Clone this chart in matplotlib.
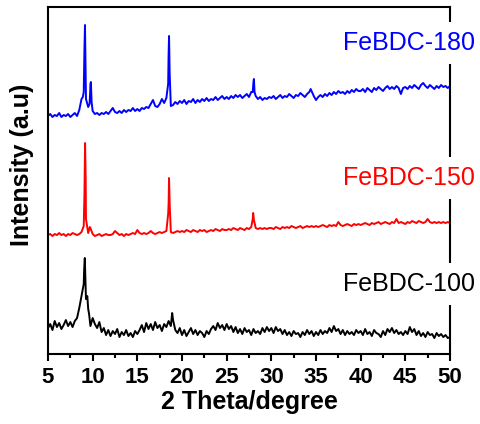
import numpy as np
import matplotlib
matplotlib.use("Agg")
import matplotlib.pyplot as plt
from matplotlib.ticker import MultipleLocator

plt.rcParams['font.family'] = ['Liberation Sans', 'DejaVu Sans']

# 2-theta grid (0.25 deg step) and hand-read intensities (arbitrary units, stacked offsets)
theta_start, theta_stop, theta_step = 5.0, 50.0, 0.25

fe180_base = [
    238, 240, 237, 239, 238, 241, 237, 239, 238, 240, 237, 239, 241, 238, 244, 255, 262, 255, 247, 270,
    243, 240, 241, 239, 241, 240, 242, 240, 243, 246, 242, 241, 243, 241, 244, 242, 244, 243, 246, 243,
    245, 243, 246, 245, 247, 246, 250, 254, 248, 247, 250, 255, 251, 256, 300, 248, 249, 252, 250, 253,
    251, 254, 250, 253, 252, 255, 251, 254, 252, 255, 253, 256, 253, 255, 254, 257, 254, 256, 258, 255,
    257, 255, 258, 256, 259, 257, 259, 256, 258, 260, 257, 262, 272, 258, 255, 257, 254, 256, 255, 257,
    256, 258, 255, 257, 259, 256, 258, 257, 260, 258, 256, 259, 258, 261, 259, 257, 260, 262, 263, 258,
    254, 257, 259, 257, 260, 258, 261, 259, 262, 260, 263, 261, 262, 260, 263, 261, 264, 262, 265, 263,
    263, 265, 262, 266, 264, 262, 266, 264, 267, 265, 263, 266, 268, 265, 267, 265, 268, 266, 260, 266,
    267, 265, 268, 266, 269, 267, 265, 269, 271, 268, 266, 269, 267, 265, 268, 266, 269, 267, 268, 266,
    268,
]
fe180_peak_x = [8.9, 9.08, 9.14, 9.2, 9.65, 9.72, 9.8, 9.88, 18.45, 18.55, 18.62, 27.92, 28.05, 28.12, 34.4]
fe180_peak_y = [257, 305, 329, 290, 250, 262, 272, 252, 270, 318, 280, 262, 275, 262, 265]

fe150_base = [
    119, 120, 118, 120, 119, 121, 119, 120, 118, 120, 119, 121, 120, 119, 120, 122, 128, 135, 121, 126,
    120, 118, 119, 120, 118, 119, 120, 119, 119, 120, 123, 121, 119, 120, 118, 120, 119, 120, 121, 120,
    124, 121, 120, 121, 120, 121, 123, 121, 120, 121, 122, 121, 122, 123, 150, 122, 121, 122, 123, 122,
    123, 122, 124, 123, 122, 124, 123, 122, 124, 123, 124, 122, 123, 124, 123, 125, 124, 123, 125, 124,
    124, 125, 124, 126, 125, 124, 126, 125, 124, 126, 125, 127, 138, 126, 125, 126, 125, 126, 125, 126,
    126, 125, 127, 126, 125, 127, 126, 127, 126, 128, 127, 126, 127, 128, 126, 127, 128, 127, 128, 127,
    128, 127, 128, 129, 128, 127, 129, 128, 129, 128, 132, 129, 128, 129, 130, 129, 128, 130, 129, 130,
    129, 130, 131, 130, 129, 131, 130, 131, 132, 130, 131, 132, 131, 130, 132, 131, 135, 131, 132, 131,
    130, 132, 131, 133, 132, 131, 133, 132, 131, 132, 135, 132, 131, 132, 131, 132, 131, 132, 131, 132,
    131,
]
fe150_peak_x = [9.08, 9.15, 9.22, 9.68, 18.45, 18.55, 18.62, 27.92, 27.97, 28.05]
fe150_peak_y = [160, 211, 175, 127, 140, 176, 150, 135, 141, 134]

fe100_base = [
    26, 30, 24, 33, 27, 31, 25, 29, 34, 28, 32, 27, 33, 36, 46, 58, 70, 55, 45, 28,
    36, 30, 26, 32, 22, 26, 19, 24, 18, 23, 20, 25, 17, 22, 19, 24, 18, 21, 17, 23,
    20, 24, 29, 22, 31, 25, 30, 24, 32, 26, 29, 23, 30, 27, 33, 28, 34, 24, 21, 26,
    19, 24, 18, 22, 26, 20, 24, 19, 23, 21, 17, 23, 20, 25, 28, 24, 31, 26, 29, 24,
    30, 25, 28, 22, 27, 21, 25, 20, 26, 22, 24, 19, 25, 21, 23, 20, 26, 22, 27, 23,
    26, 21, 27, 23, 25, 20, 24, 19, 22, 18, 23, 20, 21, 17, 22, 19, 24, 20, 23, 18,
    22, 19, 24, 20, 23, 21, 26, 22, 28, 23, 25, 20, 24, 19, 23, 20, 22, 19, 24, 21,
    23, 19, 25, 20, 22, 18, 24, 21, 20, 17, 23, 19, 25, 22, 26, 21, 24, 20, 22, 19,
    23, 20, 27, 22, 25, 19, 23, 18, 21, 17, 22, 19, 20, 16, 21, 18, 20, 17, 19, 16,
    17,
]
fe100_peak_x = [9.05, 9.12, 9.2, 9.4, 9.6, 18.9]
fe100_peak_y = [85, 96, 70, 58, 40, 41]

labels = ["FeBDC-180", "FeBDC-150", "FeBDC-100"]
label_y = [311, 176, 70]
colors = ["#0000FF", "#FF0000", "#000000"]

grid = np.arange(theta_start, theta_stop + theta_step / 2, theta_step)


def merge(base, px, py):
    x = np.concatenate([grid, np.array(px)])
    y = np.concatenate([np.array(base, float), np.array(py, float)])
    o = np.argsort(x, kind="stable")
    return x[o], y[o]


series = [merge(fe180_base, fe180_peak_x, fe180_peak_y),
          merge(fe150_base, fe150_peak_x, fe150_peak_y),
          merge(fe100_base, fe100_peak_x, fe100_peak_y)]

fig = plt.figure(figsize=(4.8, 4.24), dpi=100)
ax = fig.add_axes([0.1, 0.165, 0.8375, 0.8185])

for (x, y), c in zip(series, colors):
    ax.plot(x, y, color=c, lw=1.4)

for lab, ly, c in zip(labels, label_y, colors):
    ax.text(38.0, ly, lab, color=c, fontsize=18, ha="left", va="center",
            bbox=dict(facecolor="white", edgecolor="none", boxstyle="square,pad=0.35"),
            zorder=10, clip_on=False)

ax.set_xlim(5, 50)
ax.set_ylim(0, 347)
ax.xaxis.set_major_locator(MultipleLocator(5))
ax.xaxis.set_minor_locator(MultipleLocator(2.5))
ax.tick_params(axis="x", which="major", direction="out", length=5, width=1.5, labelsize=16, pad=4)
ax.tick_params(axis="x", which="minor", direction="out", length=3, width=1.5)
ax.set_yticks([])
for lbl in ax.get_xticklabels():
    lbl.set_fontweight("bold")
for s in ax.spines.values():
    s.set_linewidth(1.5)
    s.set_zorder(5)

ax.set_xlabel("2 Theta/degree", fontsize=18, fontweight="bold", labelpad=2)
ax.set_ylabel("Intensity (a.u)", fontsize=18, fontweight="bold")
ax.yaxis.set_label_coords(-0.035, 0.545)

fig.savefig("out.png", dpi=100)
